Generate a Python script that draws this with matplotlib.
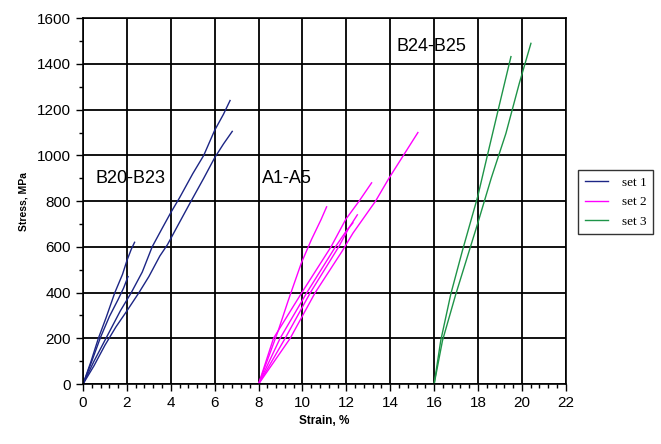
import matplotlib
matplotlib.use("Agg")
import matplotlib.pyplot as plt
from matplotlib.ticker import MultipleLocator

# set 1 (B20-B23), strain % / stress MPa
b20_x = [0, 0.35, 0.7, 1.05, 1.45, 1.8, 2.0, 2.2, 2.35]
b20_y = [0, 95, 200, 290, 400, 480, 540, 590, 620]
b21_x = [0, 0.4, 0.8, 1.2, 1.6, 1.85, 2.05]
b21_y = [0, 100, 205, 295, 370, 420, 470]
b22_x = [0, 0.5, 1.1, 1.7, 2.2, 2.7, 3.15, 3.6, 4.0, 4.4, 5.0, 5.5, 6.0, 6.4, 6.7]
b22_y = [0, 100, 210, 320, 400, 490, 600, 680, 750, 815, 920, 1000, 1110, 1180, 1240]
b23_x = [0, 0.5, 1.0, 1.5, 2.0, 2.55, 3.0, 3.5, 3.85, 4.3, 4.9, 5.5, 6.0, 6.4, 6.8]
b23_y = [0, 80, 170, 250, 320, 400, 470, 560, 610, 690, 796, 900, 990, 1050, 1105]

# set 2 (A1-A5)
a1_x = [8, 8.5, 8.9, 9.35, 9.95, 10.4, 10.85, 11.1]
a1_y = [0, 130, 235, 365, 530, 630, 720, 775]
a2_x = [8, 8.68, 9.97, 11.3, 11.97, 12.58, 13.15]
a2_y = [0, 200, 400, 600, 720, 800, 880]
a3_x = [8, 8.98, 10.2, 11.5, 12.0, 12.3]
a3_y = [0, 200, 400, 600, 670, 705]
a4_x = [8, 9.21, 10.36, 11.65, 12.1, 12.5]
a4_y = [0, 200, 400, 600, 680, 740]
a5_x = [8, 9.44, 10.58, 11.8, 12.3, 13.33, 13.94, 14.5, 15.26]
a5_y = [0, 200, 400, 580, 660, 800, 900, 985, 1100]

# set 3 (B24-B25)
b24_x = [16, 16.3, 16.76, 17.29, 17.98, 18.5, 18.97, 19.5]
b24_y = [0, 190, 394, 584, 818, 1030, 1220, 1432]
b25_x = [16, 16.38, 16.99, 17.98, 18.6, 19.27, 19.88, 20.41]
b25_y = [0, 190, 394, 701, 900, 1096, 1315, 1490]

set1 = [(b20_x, b20_y), (b21_x, b21_y), (b22_x, b22_y), (b23_x, b23_y)]
set2 = [(a1_x, a1_y), (a2_x, a2_y), (a3_x, a3_y), (a4_x, a4_y), (a5_x, a5_y)]
set3 = [(b24_x, b24_y), (b25_x, b25_y)]

c1 = "#1c2585"
c2 = "#ff00ff"
c3 = "#1e9448"

fig = plt.figure(figsize=(6.61, 4.44), dpi=100)
ax = fig.add_axes([0.1256, 0.135, 0.7304, 0.824])

for sets, col, lab in [(set1, c1, "set 1"), (set2, c2, "set 2"), (set3, c3, "set 3")]:
    for i, (x, y) in enumerate(sets):
        ax.plot(x, y, color=col, lw=1.0, label=lab if i == 0 else None)

ax.set_xlim(0, 22)
ax.set_ylim(0, 1600)
ax.xaxis.set_major_locator(MultipleLocator(2))
ax.xaxis.set_minor_locator(MultipleLocator(0.4))
ax.yaxis.set_major_locator(MultipleLocator(200))
ax.yaxis.set_minor_locator(MultipleLocator(100))
ax.grid(True, which="major", color="black", lw=1.3)
ax.tick_params(which="major", length=5, width=1, labelsize=11, direction="out")
ax.tick_params(which="minor", length=3, width=1, direction="out")
for s in ax.spines.values():
    s.set_linewidth(1.2)

for lbl in ax.get_xticklabels() + ax.get_yticklabels():
    lbl.set_family("Liberation Sans")

ax.set_xlabel("Strain, %", fontsize=8.5, fontweight="bold", family="Liberation Sans", labelpad=4)
ax.set_ylabel("Stress, MPa", fontsize=7.5, fontweight="bold", family="Liberation Sans", labelpad=6)

ax.text(0.55, 900, "B20-B23", fontsize=13, family="Liberation Sans", va="center")
ax.text(8.15, 900, "A1-A5", fontsize=13, family="Liberation Sans", va="center")
ax.text(14.3, 1475, "B24-B25", fontsize=13, family="Liberation Sans", va="center")

leg = fig.legend(loc="upper left", bbox_to_anchor=(578 / 661, 1 - 170 / 444),
                 borderaxespad=0,
                 prop={"family": "Liberation Serif", "size": 9.5},
                 frameon=True, fancybox=False, edgecolor="black",
                 handlelength=1.8, handletextpad=1.0, borderpad=0.5,
                 labelspacing=0.55)
leg.get_frame().set_linewidth(1.0)

fig.savefig("out.png", dpi=100)
